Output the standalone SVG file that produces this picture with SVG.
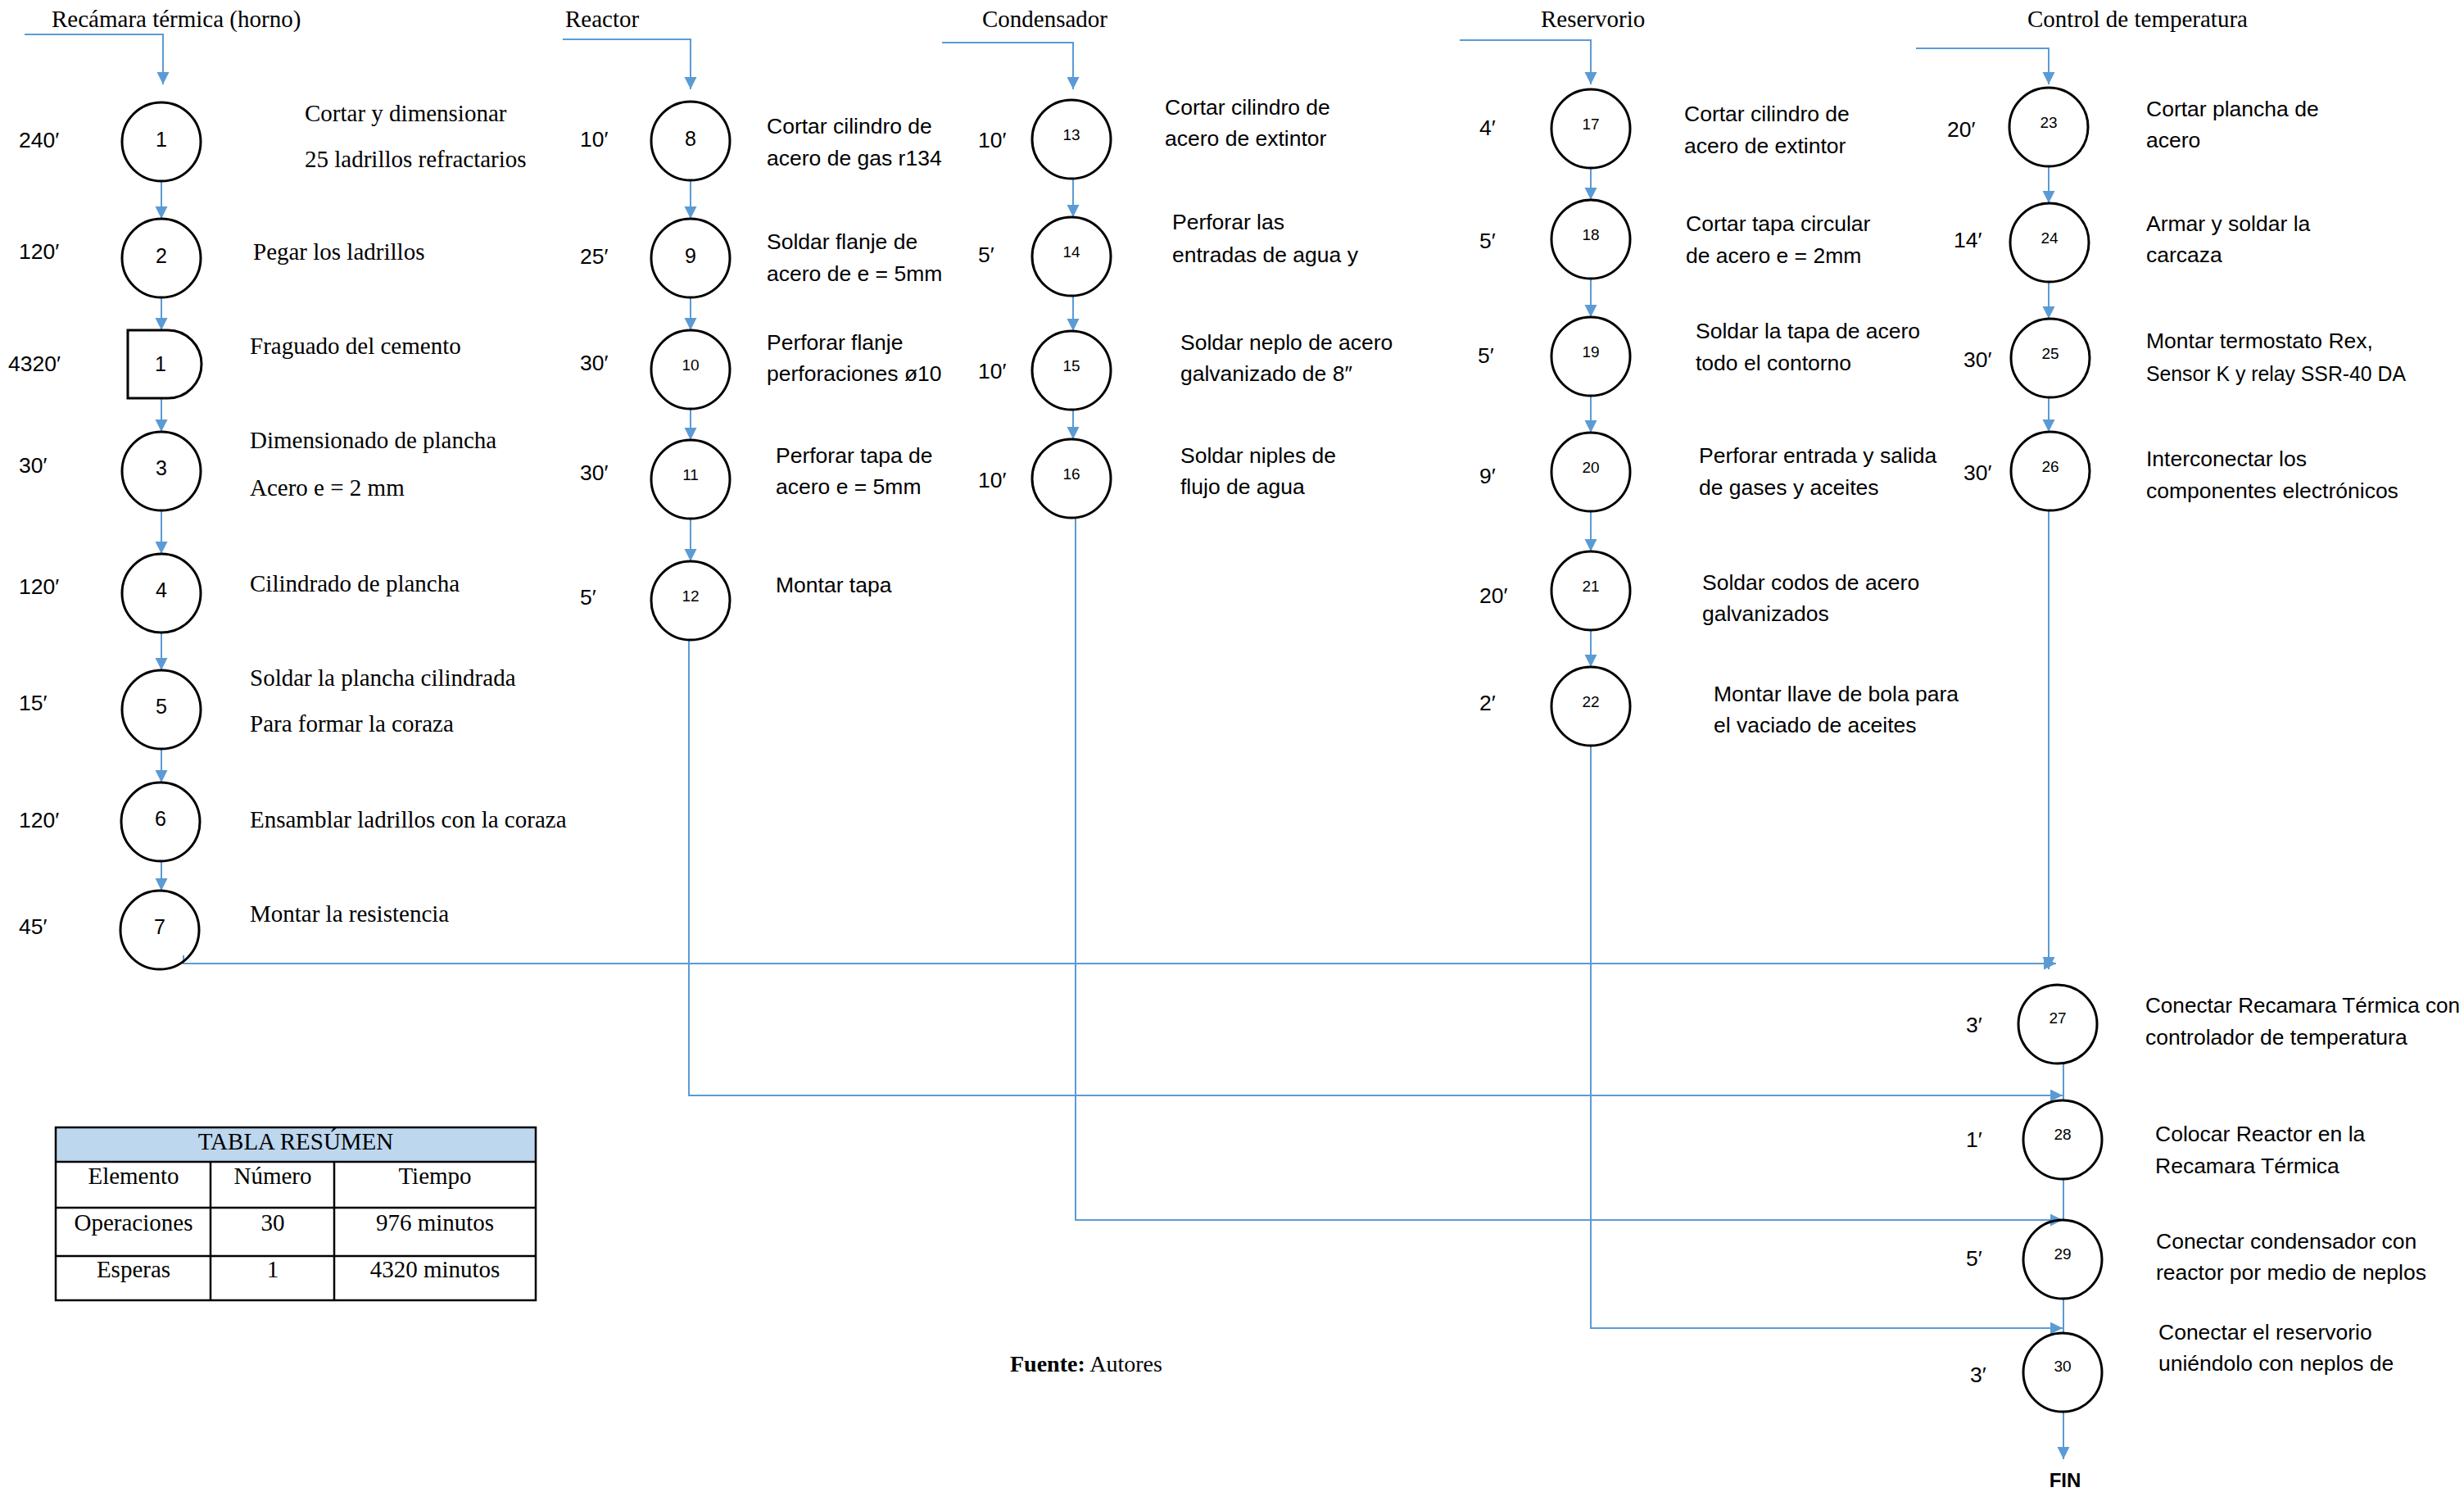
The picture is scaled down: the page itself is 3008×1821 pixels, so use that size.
<svg xmlns="http://www.w3.org/2000/svg" width="3008" height="1821" viewBox="0 0 3008 1821">
<style>
.t{font-family:"Liberation Serif","Times New Roman",serif;font-size:29px;fill:#000}
.s{font-family:"Liberation Sans",Arial,sans-serif;font-size:26.5px;fill:#000}
.d{font-family:"Liberation Sans",Arial,sans-serif;font-size:26.5px;fill:#000}
.n1{font-family:"Liberation Sans",Arial,sans-serif;font-size:25px;text-anchor:middle;fill:#000}
.n2{font-family:"Liberation Sans",Arial,sans-serif;font-size:19px;text-anchor:middle;fill:#000}
.node{fill:none;stroke:#000;stroke-width:3}
.c{fill:none;stroke:#5B9BD5;stroke-width:2}
.a{fill:none;stroke:#5B9BD5;stroke-width:2;marker-end:url(#ah)}
.tb{fill:none;stroke:#000;stroke-width:2.5}
.mid{text-anchor:middle}
</style>
<defs>
<marker id="ah" markerUnits="userSpaceOnUse" markerWidth="16" markerHeight="16" refX="15" refY="7.5" orient="auto">
<path d="M0,0 L15,7.5 L0,15 Z" fill="#5B9BD5"/>
</marker>
</defs>
<rect width="3008" height="1821" fill="#fff"/>

<g id="titles">
<text class="t" x="63" y="33">Recámara térmica (horno)</text>
<text class="t" x="690" y="33">Reactor</text>
<text class="t" x="1199" y="33">Condensador</text>
<text class="t" x="1881" y="33">Reservorio</text>
<text class="t" x="2475" y="33">Control de temperatura</text>
</g>

<g id="connectors">
<path class="a" d="M30,42 H199 V103"/>
<path class="a" d="M197,221 V267"/>
<path class="a" d="M197,363 V403"/>
<path class="a" d="M197,486 V527"/>
<path class="a" d="M197,623 V676"/>
<path class="a" d="M197,772 V818"/>
<path class="a" d="M197,914 V955"/>
<path class="a" d="M197,1051 V1087"/>

<path class="a" d="M687,48 H843 V109"/>
<path class="a" d="M843,220 V267"/>
<path class="a" d="M843,363 V403"/>
<path class="a" d="M843,499 V537"/>
<path class="a" d="M843,633 V685"/>

<path class="a" d="M1150,52 H1310 V109"/>
<path class="a" d="M1310,218 V265"/>
<path class="a" d="M1310,361 V404"/>
<path class="a" d="M1310,500 V536"/>

<path class="a" d="M1782,49 H1942 V103"/>
<path class="a" d="M1942,205 V244"/>
<path class="a" d="M1942,340 V387"/>
<path class="a" d="M1942,483 V528"/>
<path class="a" d="M1942,624 V673"/>
<path class="a" d="M1942,769 V814"/>

<path class="a" d="M2339,59 H2501 V103"/>
<path class="a" d="M2501,203 V248"/>
<path class="a" d="M2501,344 V389"/>
<path class="a" d="M2501,485 V527"/>

<path class="a" d="M2501,623 V1183"/>
<path class="a" d="M224,1166 V1176 H2510"/>
<path class="a" d="M841,781 V1337 H2518"/>
<path class="a" d="M1313,632 V1489 H2518"/>
<path class="a" d="M1942,910 V1621 H2518"/>
<path class="c" d="M2519,1297 V1343"/>
<path class="c" d="M2519,1439 V1489"/>
<path class="c" d="M2519,1585 V1627"/>
<path class="a" d="M2519,1723 V1781"/>
</g>

<g id="node-1"><ellipse class="node" cx="197" cy="173" rx="48" ry="48"/><text class="n1" x="197" y="179">1</text><text class="d" x="23" y="180">240′</text><text class="t" x="372" y="148">Cortar y dimensionar</text><text class="t" x="372" y="204">25 ladrillos refractarios</text></g>
<g id="node-2"><ellipse class="node" cx="197" cy="315" rx="48" ry="48"/><text class="n1" x="197" y="321">2</text><text class="d" x="23" y="316">120′</text><text class="t" x="309" y="317">Pegar los ladrillos</text></g>
<g id="wait-1"><path class="node" d="M156,403 H205 A41,41.5 0 0 1 205,486 H156 Z"/><text class="n1" x="196" y="453">1</text><text class="d" x="10" y="453">4320′</text><text class="t" x="305" y="432">Fraguado del cemento</text></g>
<g id="node-3"><ellipse class="node" cx="197" cy="575" rx="48" ry="48"/><text class="n1" x="197" y="580">3</text><text class="d" x="23" y="577">30′</text><text class="t" x="305" y="547">Dimensionado de plancha</text><text class="t" x="305" y="605">Acero e = 2 mm</text></g>
<g id="node-4"><ellipse class="node" cx="197" cy="724" rx="48" ry="48"/><text class="n1" x="197" y="729">4</text><text class="d" x="23" y="725">120′</text><text class="t" x="305" y="722">Cilindrado de plancha</text></g>
<g id="node-5"><ellipse class="node" cx="197" cy="866" rx="48" ry="48"/><text class="n1" x="197" y="871">5</text><text class="d" x="23" y="867">15′</text><text class="t" x="305" y="837">Soldar la plancha cilindrada</text><text class="t" x="305" y="893">Para formar la coraza</text></g>
<g id="node-6"><ellipse class="node" cx="196" cy="1003" rx="48" ry="48"/><text class="n1" x="196" y="1008">6</text><text class="d" x="23" y="1010">120′</text><text class="t" x="305" y="1010">Ensamblar ladrillos con la coraza</text></g>
<g id="node-7"><ellipse class="node" cx="195" cy="1135" rx="48" ry="48"/><text class="n1" x="195" y="1140">7</text><text class="d" x="23" y="1140">45′</text><text class="t" x="305" y="1125">Montar la resistencia</text></g>

<g id="node-8"><ellipse class="node" cx="843" cy="172" rx="48" ry="48"/><text class="n1" x="843" y="178">8</text><text class="d" x="708" y="179">10′</text><text class="s" x="936" y="163">Cortar cilindro de</text><text class="s" x="936" y="202">acero de gas r134</text></g>
<g id="node-9"><ellipse class="node" cx="843" cy="315" rx="48" ry="48"/><text class="n1" x="843" y="321">9</text><text class="d" x="708" y="322">25′</text><text class="s" x="936" y="304">Soldar flanje de</text><text class="s" x="936" y="343">acero de e = 5mm</text></g>
<g id="node-10"><ellipse class="node" cx="843" cy="451" rx="48" ry="48"/><text class="n2" x="843" y="452">10</text><text class="d" x="708" y="452">30′</text><text class="s" x="936" y="427">Perforar flanje</text><text class="s" x="936" y="465">perforaciones ø10</text></g>
<g id="node-11"><ellipse class="node" cx="843" cy="585" rx="48" ry="48"/><text class="n2" x="843" y="586">11</text><text class="d" x="708" y="586">30′</text><text class="s" x="947" y="565">Perforar tapa de</text><text class="s" x="947" y="603">acero e = 5mm</text></g>
<g id="node-12"><ellipse class="node" cx="843" cy="733" rx="48" ry="48"/><text class="n2" x="843" y="734">12</text><text class="d" x="708" y="738">5′</text><text class="s" x="947" y="723">Montar tapa</text></g>

<g id="node-13"><ellipse class="node" cx="1308" cy="170" rx="48" ry="48"/><text class="n2" x="1308" y="171">13</text><text class="d" x="1194" y="180">10′</text><text class="s" x="1422" y="140">Cortar cilindro de</text><text class="s" x="1422" y="178">acero de extintor</text></g>
<g id="node-14"><ellipse class="node" cx="1308" cy="313" rx="48" ry="48"/><text class="n2" x="1308" y="314">14</text><text class="d" x="1194" y="320">5′</text><text class="s" x="1431" y="280">Perforar las</text><text class="s" x="1431" y="320">entradas de agua y</text></g>
<g id="node-15"><ellipse class="node" cx="1308" cy="452" rx="48" ry="48"/><text class="n2" x="1308" y="453">15</text><text class="d" x="1194" y="462">10′</text><text class="s" x="1441" y="427">Soldar neplo de acero</text><text class="s" x="1441" y="465">galvanizado de 8″</text></g>
<g id="node-16"><ellipse class="node" cx="1308" cy="584" rx="48" ry="48"/><text class="n2" x="1308" y="585">16</text><text class="d" x="1194" y="595">10′</text><text class="s" x="1441" y="565">Soldar niples de</text><text class="s" x="1441" y="603">flujo de agua</text></g>

<g id="node-17"><ellipse class="node" cx="1942" cy="157" rx="48" ry="48"/><text class="n2" x="1942" y="158">17</text><text class="d" x="1806" y="165">4′</text><text class="s" x="2056" y="148">Cortar cilindro de</text><text class="s" x="2056" y="187">acero de extintor</text></g>
<g id="node-18"><ellipse class="node" cx="1942" cy="292" rx="48" ry="48"/><text class="n2" x="1942" y="293">18</text><text class="d" x="1806" y="303">5′</text><text class="s" x="2058" y="282">Cortar tapa circular</text><text class="s" x="2058" y="321">de acero e = 2mm</text></g>
<g id="node-19"><ellipse class="node" cx="1942" cy="435" rx="48" ry="48"/><text class="n2" x="1942" y="436">19</text><text class="d" x="1804" y="443">5′</text><text class="s" x="2070" y="413">Soldar la tapa de acero</text><text class="s" x="2070" y="452">todo el contorno</text></g>
<g id="node-20"><ellipse class="node" cx="1942" cy="576" rx="48" ry="48"/><text class="n2" x="1942" y="577">20</text><text class="d" x="1806" y="590">9′</text><text class="s" x="2074" y="565">Perforar entrada y salida</text><text class="s" x="2074" y="604">de gases y aceites</text></g>
<g id="node-21"><ellipse class="node" cx="1942" cy="721" rx="48" ry="48"/><text class="n2" x="1942" y="722">21</text><text class="d" x="1806" y="736">20′</text><text class="s" x="2078" y="720">Soldar codos de acero</text><text class="s" x="2078" y="758">galvanizados</text></g>
<g id="node-22"><ellipse class="node" cx="1942" cy="862" rx="48" ry="48"/><text class="n2" x="1942" y="863">22</text><text class="d" x="1806" y="867">2′</text><text class="s" x="2092" y="856">Montar llave de bola para</text><text class="s" x="2092" y="894">el vaciado de aceites</text></g>

<g id="node-23"><ellipse class="node" cx="2501" cy="155" rx="48" ry="48"/><text class="n2" x="2501" y="156">23</text><text class="d" x="2377" y="167">20′</text><text class="s" x="2620" y="142">Cortar plancha de</text><text class="s" x="2620" y="180">acero</text></g>
<g id="node-24"><ellipse class="node" cx="2502" cy="296" rx="48" ry="48"/><text class="n2" x="2502" y="297">24</text><text class="d" x="2385" y="302">14′</text><text class="s" x="2620" y="282">Armar y soldar la</text><text class="s" x="2620" y="320">carcaza</text></g>
<g id="node-25"><ellipse class="node" cx="2503" cy="437" rx="48" ry="48"/><text class="n2" x="2503" y="438">25</text><text class="d" x="2397" y="448">30′</text><text class="s" x="2620" y="425">Montar termostato Rex,</text><text class="s" x="2620" y="465" textLength="317" lengthAdjust="spacingAndGlyphs">Sensor K y relay SSR-40 DA</text></g>
<g id="node-26"><ellipse class="node" cx="2503" cy="575" rx="48" ry="48"/><text class="n2" x="2503" y="576">26</text><text class="d" x="2397" y="586">30′</text><text class="s" x="2620" y="569">Interconectar los</text><text class="s" x="2620" y="608">componentes electrónicos</text></g>

<g id="node-27"><ellipse class="node" cx="2512" cy="1250" rx="48" ry="48"/><text class="n2" x="2512" y="1249">27</text><text class="d" x="2400" y="1260">3′</text><text class="s" x="2619" y="1236" textLength="384" lengthAdjust="spacingAndGlyphs">Conectar Recamara Térmica con</text><text class="s" x="2619" y="1275">controlador de temperatura</text></g>
<g id="node-28"><ellipse class="node" cx="2518" cy="1391" rx="48" ry="48"/><text class="n2" x="2518" y="1391">28</text><text class="d" x="2400" y="1400">1′</text><text class="s" x="2631" y="1393">Colocar Reactor en la</text><text class="s" x="2631" y="1432">Recamara Térmica</text></g>
<g id="node-29"><ellipse class="node" cx="2518" cy="1537" rx="48" ry="48"/><text class="n2" x="2518" y="1537">29</text><text class="d" x="2400" y="1545">5′</text><text class="s" x="2632" y="1524">Conectar condensador con</text><text class="s" x="2632" y="1562">reactor por medio de neplos</text></g>
<g id="node-30"><ellipse class="node" cx="2518" cy="1675" rx="48" ry="48"/><text class="n2" x="2518" y="1674">30</text><text class="d" x="2405" y="1687">3′</text><text class="s" x="2635" y="1635">Conectar el reservorio</text><text class="s" x="2635" y="1673">uniéndolo con neplos de</text></g>

<g id="fin"><text x="2521" y="1815" style="font-family:'Liberation Sans',Arial,sans-serif;font-size:24px;font-weight:bold;text-anchor:middle">FIN</text></g>

<g id="tabla">
<rect x="68" y="1376" width="586" height="42" fill="#BDD7EE"/>
<rect class="tb" x="68" y="1376" width="586" height="211"/>
<path class="tb" d="M68,1418 H654 M68,1474 H654 M68,1533 H654 M257,1418 V1587 M408,1418 V1587"/>
<text class="t mid" x="361" y="1403">TABLA RESÚMEN</text>
<text class="t mid" x="163" y="1445">Elemento</text>
<text class="t mid" x="333" y="1445">Número</text>
<text class="t mid" x="531" y="1445">Tiempo</text>
<text class="t mid" x="163" y="1502">Operaciones</text>
<text class="t mid" x="333" y="1502">30</text>
<text class="t mid" x="531" y="1502">976 minutos</text>
<text class="t mid" x="163" y="1559">Esperas</text>
<text class="t mid" x="333" y="1559">1</text>
<text class="t mid" x="531" y="1559">4320 minutos</text>
</g>

<g id="fuente"><text class="t" x="1233" y="1674" style="font-size:28px"><tspan font-weight="bold">Fuente:</tspan> Autores</text></g>
</svg>
